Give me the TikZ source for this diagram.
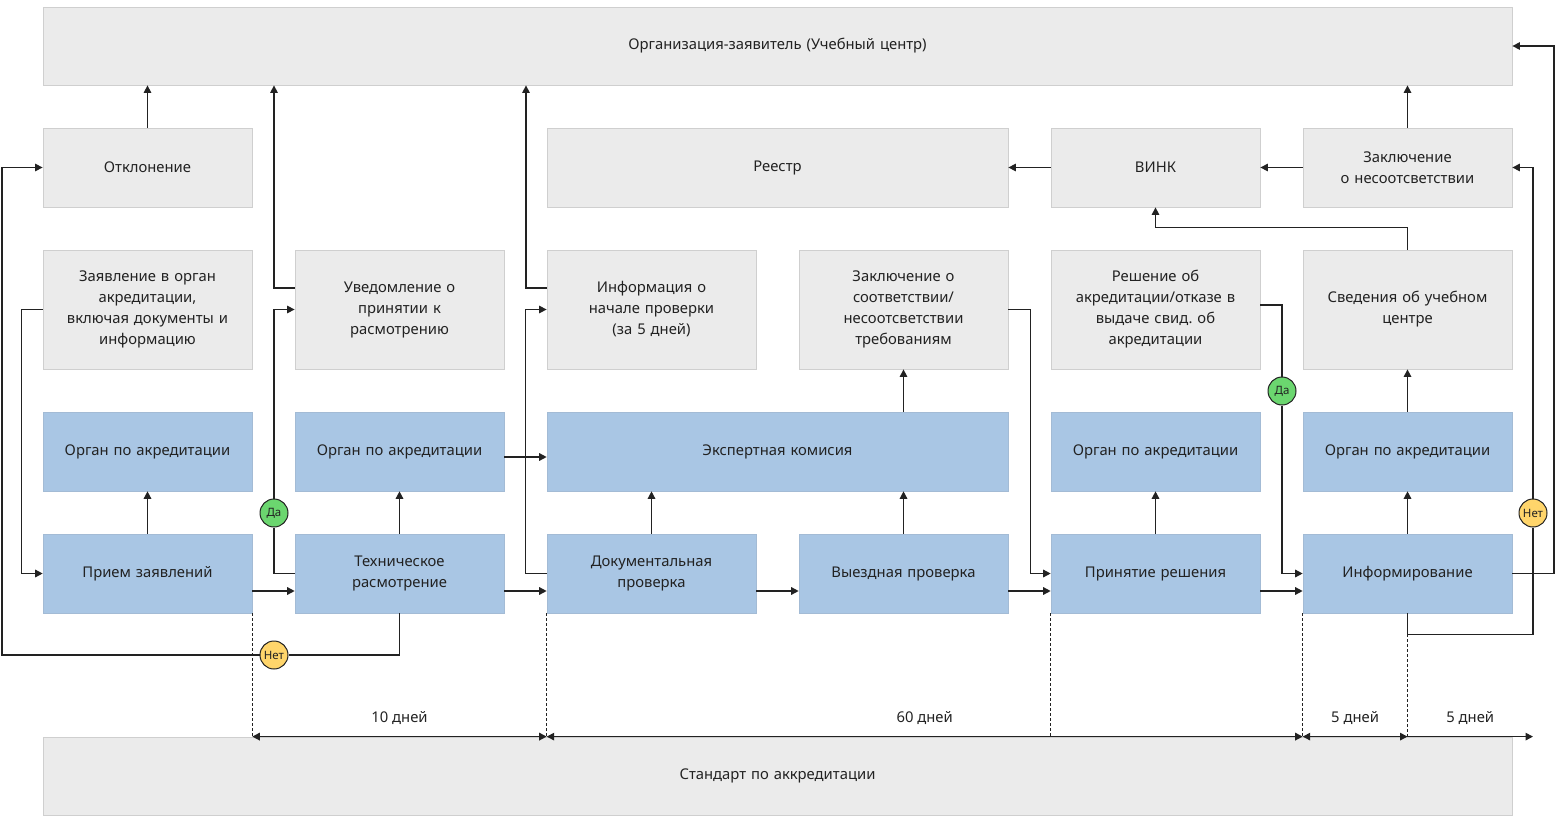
\documentclass[tikz,border=0pt]{standalone}
\usepackage{fontspec}
\setmainfont{Noto Sans}
\frenchspacing
\usetikzlibrary{arrows.meta,calc}
\definecolor{gfill}{HTML}{EBEBEB}
\definecolor{gline}{HTML}{CFCFCF}
\definecolor{bfill}{HTML}{A9C6E4}
\definecolor{ink}{HTML}{222222}
\definecolor{dagreen}{HTML}{6BD66F}
\definecolor{netyel}{HTML}{FFD56B}
\tikzset{
  gbox/.style={draw=gline, line width=0.8pt, fill=gfill, inner sep=2pt, align=center, text=ink, font=\fontsize{14.8}{21}\selectfont, text width=#1-8pt, minimum width=#1},
  gbox/.default=209pt,
  bbox/.style={draw=bfill!85!gray, line width=0.6pt, fill=bfill, inner sep=2pt, align=center, text=ink, font=\fontsize{14.8}{21}\selectfont, text width=#1-8pt, minimum width=#1, minimum height=79pt},
  bbox/.default=209pt,
  arr/.style={draw=ink, line width=1.4pt, -{Triangle[length=7.5pt,width=7.5pt]}},
  ln/.style={draw=ink, line width=1.4pt},
  dim/.style={draw=ink, line width=1.4pt, {Triangle[length=7.5pt,width=7.5pt]}-{Triangle[length=7.5pt,width=7.5pt]}},
  dimr/.style={draw=ink, line width=1.4pt, -{Triangle[length=7.5pt,width=7.5pt]}},
  dots/.style={draw=ink, line width=1pt, dash pattern=on 3pt off 2pt},
  badge/.style={circle, draw=ink, line width=1pt, fill=#1, minimum size=28pt, inner sep=0pt, text=ink, font=\fontsize{11.5}{12}\selectfont},
  lbl/.style={text=ink, font=\fontsize{14.8}{16}\selectfont},
}
\begin{document}
\begin{tikzpicture}[x=1pt,y=-1pt]
\useasboundingbox (0,0) rectangle (1556,822);
% top and bottom
\node[gbox=1469pt, minimum height=78pt] (top) at (777.5,46) {Организация-заявитель (Учебный центр)};
\node[gbox=1469pt, minimum height=78pt] (std) at (777.5,776) {Стандарт по аккредитации};
% row 1
\node[gbox, minimum height=79pt] (otkl) at (147.5,167.5) {Отклонение};
\node[gbox=461pt, minimum height=79pt] (reestr) at (777.5,167.5) {Реестр};
\node[gbox, minimum height=79pt] (vink) at (1155.5,167.5) {ВИНК};
\node[gbox, minimum height=79pt] (zakn) at (1407.5,167.5) {Заключение\\о несоотсветствии};
% row 2
\node[gbox, minimum height=119pt] (zayav) at (147.5,309.5) {Заявление в орган\\акредитации,\\включая документы и\\информацию};
\node[gbox, minimum height=119pt] (uved) at (399.5,309.5) {Уведомление о\\принятии к\\расмотрению};
\node[gbox, minimum height=119pt] (info) at (651.5,309.5) {Информация о\\начале проверки\\(за 5 дней)};
\node[gbox, minimum height=119pt] (zaks) at (903.5,309.5) {Заключение о\\соответствии/\\несоотсветствии\\требованиям};
\node[gbox, minimum height=119pt] (resh) at (1155.5,309.5) {Решение об\\акредитации/отказе в\\выдаче свид. об\\акредитации};
\node[gbox, minimum height=119pt] (sved) at (1407.5,309.5) {Сведения об учебном\\центре};
% row 3
\node[bbox] (org1) at (147.5,451.5) {Орган по акредитации};
\node[bbox] (org2) at (399.5,451.5) {Орган по акредитации};
\node[bbox=461pt] (eks) at (777.5,451.5) {Экспертная комисия};
\node[bbox] (org3) at (1155.5,451.5) {Орган по акредитации};
\node[bbox] (org4) at (1407.5,451.5) {Орган по акредитации};
% row 4
\node[bbox] (priem) at (147.5,573.5) {Прием заявлений};
\node[bbox] (tech) at (399.5,573.5) {Техническое\\расмотрение};
\node[bbox] (dok) at (651.5,573.5) {Документальная\\проверка};
\node[bbox] (vyezd) at (903.5,573.5) {Выездная проверка};
\node[bbox] (prin) at (1155.5,573.5) {Принятие решения};
\node[bbox] (inf) at (1407.5,573.5) {Информирование};
% helper coordinates
\coordinate (cA) at (274,0);
\coordinate (cB) at (526,0);
\coordinate (L) at (2,655);
\coordinate (R) at (1554,0);
% dotted guides
\draw[dots] (priem.south east) -- (priem.south east |- std.north);
\draw[dots] (dok.south west) -- (dok.south west |- std.north);
\draw[dots] (prin.south west) -- (prin.south west |- std.north);
\draw[dots] (inf.south west) -- (inf.south west |- std.north);
\draw[dots] ([yshift=-21pt]inf.south) -- (inf.south |- std.north);
% connectors up to top
\draw[arr] (otkl.north) -- (otkl.north |- top.south);
\draw[arr] ([yshift=21.5pt]uved.west) -| (top.south -| cA);
\draw[arr] ([yshift=21.5pt]info.west) -| (top.south -| cB);
\draw[arr] (zakn.north) -- (zakn.north |- top.south);
\draw[arr] (inf.east) -| (R |- top.east) -- (top.east);
% row 1 horizontal
\draw[arr] (zakn.west) -- (vink.east);
\draw[arr] (vink.west) -- (reestr.east);
\draw[arr] (sved.north) -- ++(0,-22) -| (vink.south);
% vertical up arrows
\draw[arr] (priem.north) -- (org1.south);
\draw[arr] (tech.north) -- (org2.south);
\draw[arr] (dok.north) -- (dok.north |- eks.south);
\draw[arr] (vyezd.north) -- (vyezd.north |- eks.south);
\draw[arr] (zaks.south |- eks.north) -- (zaks.south);
\draw[arr] (prin.north) -- (org3.south);
\draw[arr] (inf.north) -- (org4.south);
\draw[arr] (org4.north) -- (sved.south);
% left feeds
\draw[arr] (zayav.west) -- ++(-21,0) |- (priem.west);
\draw[arr] (dok.west) -- ++(-21,0) |- (info.west);
\draw[arr] (zaks.east) -- ++(22,0) |- (prin.west);
% horizontal flow
\draw[arr] ([yshift=-17.5pt]priem.east) -- ([yshift=-17.5pt]tech.west);
\draw[arr] ([yshift=-17.5pt]tech.east) -- ([yshift=-17.5pt]dok.west);
\draw[arr] ([yshift=-17.5pt]dok.east) -- ([yshift=-17.5pt]vyezd.west);
\draw[arr] ([yshift=-17.5pt]vyezd.east) -- ([yshift=-17.5pt]prin.west);
\draw[arr] ([yshift=-17.5pt]prin.east) -- ([yshift=-17.5pt]inf.west);
\draw[arr] ([yshift=-5.5pt]org2.east) -- ([yshift=-5.5pt]eks.west);
% badges
\node[badge=dagreen] (da1) at (274,513) {Да};
\node[badge=netyel] (net1) at (274,655) {Нет};
\node[badge=dagreen] (da2) at (1282,391) {Да};
\node[badge=netyel] (net2) at (1533,513) {Нет};
% decision connectors
\draw[ln] (tech.west) -| (da1.south);
\draw[arr] (da1.north) |- (uved.west);
\draw[ln] (tech.south) |- (net1.east);
\draw[arr] (net1.west) -- (L) |- (otkl.west);
\draw[ln] ([yshift=4.5pt]resh.east) -| (da2.north);
\draw[arr] (da2.south) |- (inf.west);
\draw[ln] (inf.south) -- ++(0,21) -| (net2.south);
\draw[arr] (net2.north) |- (zakn.east);
% timeline
\draw[dim] (priem.south east |- std.north) -- node[lbl, above=8pt] {10 дней} (dok.south west |- std.north);
\draw[dim] (dok.south west |- std.north) -- node[lbl, above=8pt] {60 дней} (inf.south west |- std.north);
\draw[dim] (inf.south west |- std.north) -- node[lbl, above=8pt] {5 дней} (inf.south |- std.north);
\draw[dimr] (inf.south |- std.north) -- node[lbl, above=8pt] {5 дней} (net2 |- std.north);
\end{tikzpicture}
\end{document}
